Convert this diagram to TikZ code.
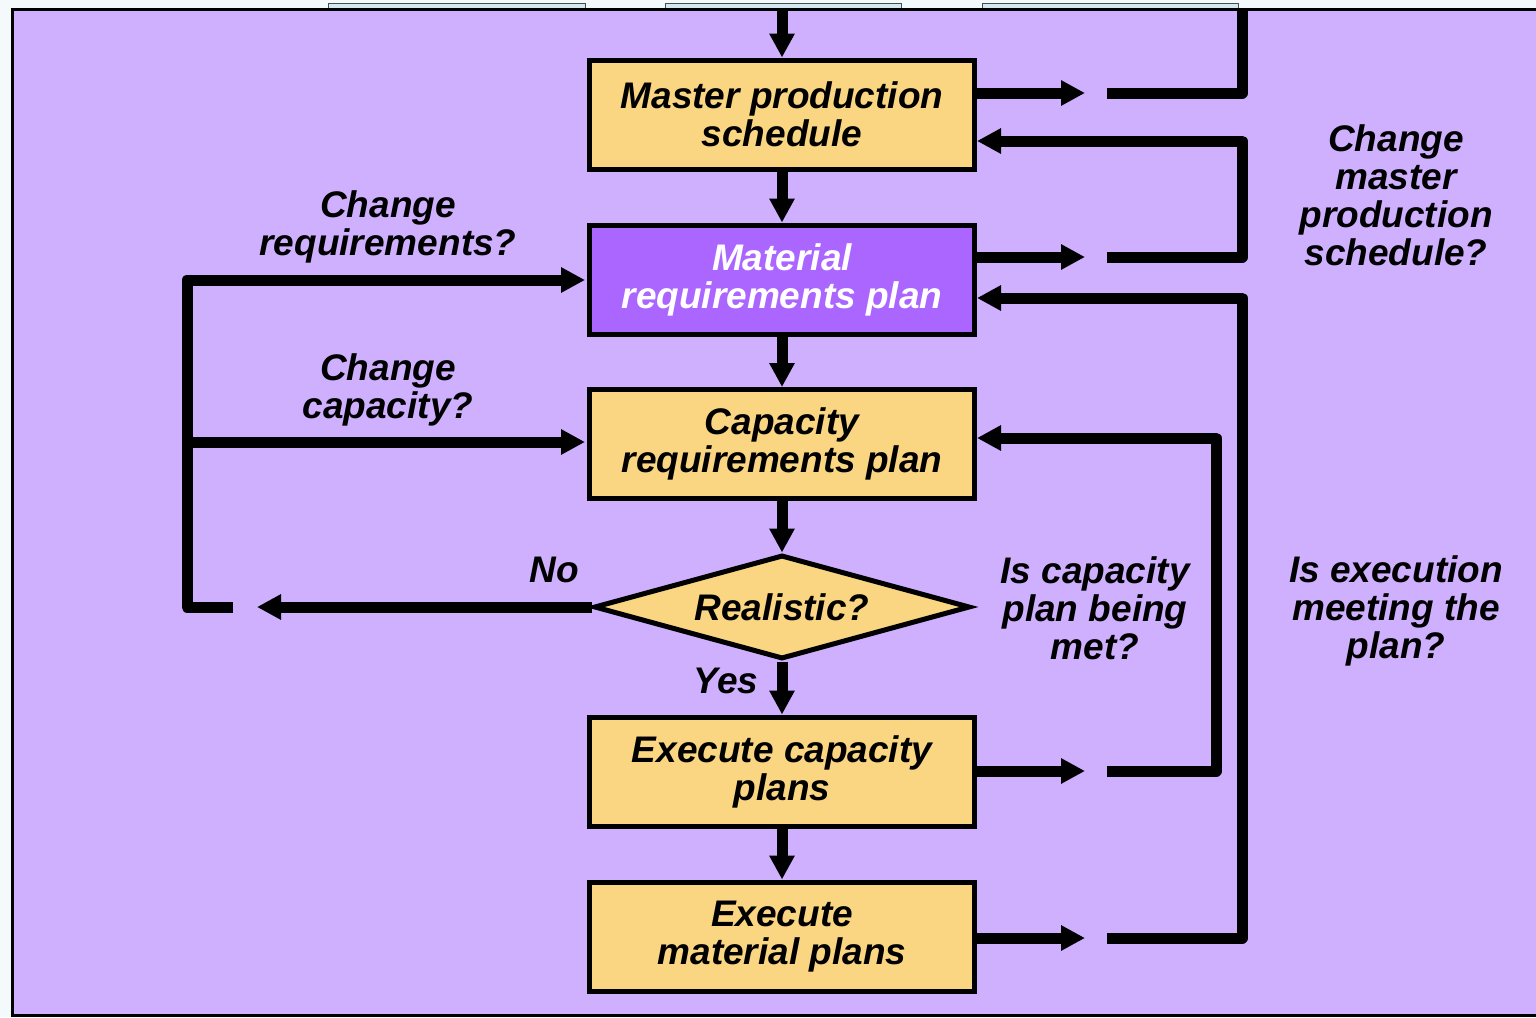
\documentclass[tikz,border=0pt]{standalone}
\usepackage{fontspec}
\setmainfont{Liberation Sans}
\usetikzlibrary{shapes.geometric,arrows.meta}
\definecolor{pagebg}{HTML}{F4F9FC}
\definecolor{panel}{HTML}{CFB0FF}
\definecolor{boxfill}{HTML}{FAD582}
\definecolor{mrpfill}{HTML}{AA66FF}
\definecolor{tabfill}{HTML}{D3E9F1}
\begin{document}
\begin{tikzpicture}[x=1pt,y=-1pt,
  every node/.style={font=\fontsize{37}{38}\selectfont\bfseries\itshape, align=center},
  stepbox/.style={draw, line width=5pt, fill=boxfill, minimum width=385pt, minimum height=109pt, inner sep=0pt},
  decision/.style={diamond, aspect=3.5, draw, line width=5pt, fill=boxfill, minimum width=376pt, minimum height=104pt, inner sep=0pt},
  flow/.style={line width=11pt, line join=round, -{Triangle[length=24pt,width=24pt]}},
  bar/.style={line width=11pt, line join=round},
  tab/.style={draw=black!70, line width=1pt, fill=tabfill}]
\useasboundingbox (0,0) rectangle (1536,1017);
\fill[pagebg] (0,0) rectangle (1536,1017);

% tabs peeking over the panel
\draw[tab] (328,3) rectangle (585,9);
\draw[tab] (665,3) rectangle (901,9);
\draw[tab] (982,3) rectangle (1238,9);

% panel
\draw[fill=panel, line width=3pt] (1545,9) -- (12,9) -- (12,1015) -- (1545,1015);

% process steps
\node[stepbox] (mps) at (782,114.5) {Master production\\schedule};
\node[stepbox, fill=mrpfill, text=white] (mrp) at (782,279.5) {Material\\requirements plan};
\node[stepbox] (crp) at (782,444) {Capacity\\requirements plan};
\node[decision] (real) at (782,607) {Realistic?};
\node[stepbox] (exc) at (782,771.5) {Execute capacity\\plans};
\node[stepbox] (exm) at (782,936.5) {Execute\\material plans};

% main downward flow
\coordinate (topin) at (782,9);
\draw[flow] (topin) -- (mps.north);
\draw[flow] (mps.south) -- (mrp.north);
\draw[flow] (mrp.south) -- (crp.north);
\draw[flow] (crp.south) -- (real.north);
\draw[flow] (real.south) -- (exc.north);
\draw[flow] (exc.south) -- (exm.north);

% right-hand feedback
\coordinate (o1) at (1085,93);
\coordinate (o2) at (1085,257);
\coordinate (o3) at (1085,771);
\coordinate (o4) at (1085,938);
\draw[flow] (o1 -| mps.east) -- (o1);
\draw[flow] (o2 -| mrp.east) -- (o2);
\draw[flow] (o3 -| exc.east) -- (o3);
\draw[flow] (o4 -| exm.east) -- (o4);

\coordinate (s1) at (1107,93);
\coordinate (s2) at (1107,257);
\coordinate (s3) at (1107,771);
\coordinate (s4) at (1107,938);
\coordinate (c1) at (1242,93);
\coordinate (c0) at (1242,8);
\coordinate (c2) at (1242,257);
\coordinate (c2b) at (1242,141);
\coordinate (c4) at (1242,938);
\coordinate (c4b) at (1242,298);
\coordinate (c3) at (1216,771);
\coordinate (c3b) at (1216,438);
\coordinate (e1) at (977,141);
\coordinate (e2) at (977,298);
\coordinate (e3) at (977,438);

\draw[bar] (s1) -- (c1) -- (c0);
\draw[flow] (s2) -- (c2) -- (c2b) -- (e1);
\draw[flow] (s4) -- (c4) -- (c4b) -- (e2);
\draw[flow] (s3) -- (c3) -- (c3b) -- (e3);

% left-hand feedback
\coordinate (l0) at (233,607);
\coordinate (l1) at (187,607);
\coordinate (l2) at (187,280);
\coordinate (l3) at (585,280);
\coordinate (l4) at (187,442);
\coordinate (l5) at (585,442);
\coordinate (nend) at (257,607);
\draw[flow] (l0) -- (l1) -- (l2) -- (l3);
\draw[flow] (l4) -- (l5);
\draw[flow] (real.west) -- (nend);

% labels
\node (q1) at (388,227) {Change\\requirements?};
\node (q2) at (388,390) {Change\\capacity?};
\node (no) at (554,570) {No};
\node (yes) at (726,681) {Yes};
\node (q3) at (1396,195) {Change\\master\\production\\schedule?};
\node (q4) at (1095,608) {Is capacity\\plan being\\met?};
\node (q5) at (1396,611) {Is execution\\meeting the\\plan?};
\end{tikzpicture}
\end{document}
